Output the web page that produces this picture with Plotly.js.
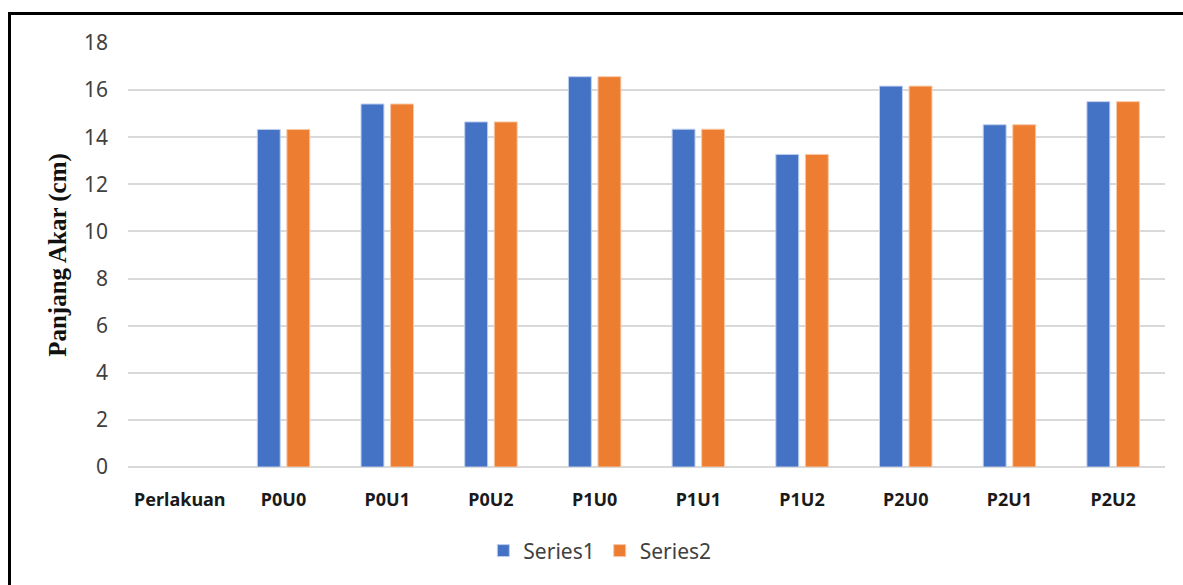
<!DOCTYPE html>
<html>
<head>
<meta charset="utf-8">
<script src="https://cdn.plot.ly/plotly-3.0.1.min.js"></script>
<style>
  html, body { margin: 0; padding: 0; background: #fff; }
  #wrap { position: relative; width: 1183px; height: 585px; overflow: hidden; }
  #frame { position: absolute; left: 8px; top: 12px; width: 1200px; height: 600px;
           border-top: 3px solid #000; border-left: 3px solid #000; pointer-events: none; }
  #chart { position: absolute; left: 0; top: 0; width: 1183px; height: 585px; }
</style>
</head>
<body>
<div id="wrap">
  <div id="chart"></div>
  <div id="frame"></div>
</div>
<script>
const categories = ["Perlakuan", "P0U0", "P0U1", "P0U2", "P1U0", "P1U1", "P1U2", "P2U0", "P2U1", "P2U2"];
const series1 = [null, 14.33, 15.41, 14.65, 16.57, 14.34, 13.27, 16.17, 14.53, 15.51];
const series2 = [null, 14.33, 15.41, 14.65, 16.57, 14.34, 13.27, 16.17, 14.53, 15.51];
const seriesNames = ["Series1", "Series2"];
const yTicks = [0, 2, 4, 6, 8, 10, 12, 14, 16, 18];

const traces = [
  { type: "bar", name: seriesNames[0], x: categories, y: series1,
    marker: { color: "#4472C4", line: { color: "#BFCFEE", width: 1 } } },
  { type: "bar", name: seriesNames[1], x: categories, y: series2,
    marker: { color: "#ED7D31", line: { color: "#F8C9A8", width: 1 } } }
];

const layout = {
  width: 1183, height: 585,
  margin: { l: 128, r: 18, t: 43, b: 118 },
  paper_bgcolor: "rgba(0,0,0,0)", plot_bgcolor: "#fff",
  barmode: "group", bargap: 0.43, bargroupgap: 0.225,
  font: { family: "Noto Sans, Open Sans, sans-serif", color: "#404040" },
  xaxis: {
    type: "category", showgrid: false, zeroline: false,
    showline: false, ticks: "",
    ticklabelstandoff: 20,
    tickfont: { family: "Noto Sans, Open Sans, sans-serif", size: 18, color: "#1a1a1a", weight: "bold" }
  },
  yaxis: {
    range: [0, 18], tickvals: yTicks, ticktext: yTicks.map(String),
    showgrid: true, gridcolor: "#D9D9D9", gridwidth: 2,
    zeroline: true, zerolinecolor: "#D9D9D9", zerolinewidth: 2,
    showline: false, ticks: "", ticklabelstandoff: 19,
    tickfont: { family: "Noto Sans, Open Sans, sans-serif", size: 21, color: "#404040" },
    title: { text: "Panjang Akar (cm)", standoff: 10,
             font: { family: "Liberation Serif, Times New Roman, serif", size: 25, color: "#111", weight: "bold" } }
  },
  showlegend: true,
  legend: {
    orientation: "h", x: 0.455, xanchor: "center", y: -0.198, yanchor: "middle",
    font: { family: "Noto Sans, Open Sans, sans-serif", size: 21, color: "#404040" },
    itemwidth: 30, tracegroupgap: 0, traceorder: "normal"
  }
};

Plotly.newPlot("chart", traces, layout, { displayModeBar: false, staticPlot: true });
</script>
</body>
</html>
